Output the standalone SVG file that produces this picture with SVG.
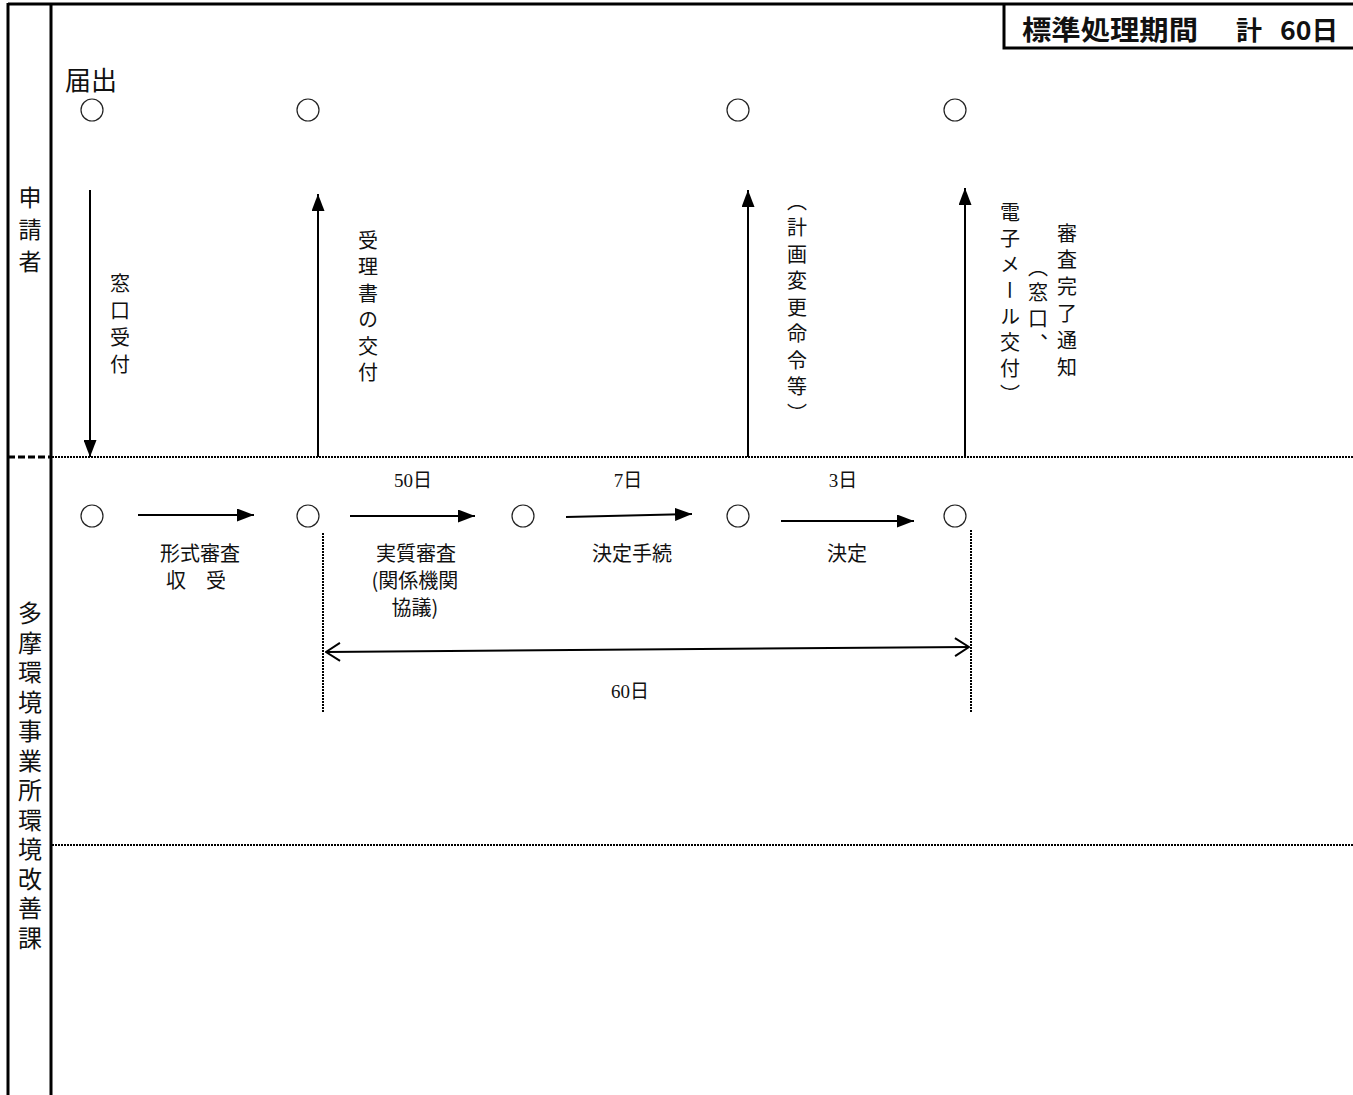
<svg xmlns="http://www.w3.org/2000/svg" width="1353" height="1095" viewBox="0 0 1353 1095">
<style>
.frame{stroke:#000;stroke-width:3;fill:none}
.dot{stroke:#000;stroke-width:2;stroke-dasharray:2 1;fill:none}
.node{fill:#fff;stroke:#222;stroke-width:1.2}
.arr{stroke:#000;stroke-width:2;fill:none}
.jp{font-family:"Noto Sans CJK JP","Noto Sans",sans-serif;fill:#111}
.vt{font-family:"Noto Sans CJK JP","Noto Sans",sans-serif;fill:#111;writing-mode:vertical-rl;font-size:20px}
.num{font-family:"Liberation Serif","Noto Sans CJK JP",serif;font-size:19px;fill:#111;text-anchor:middle}
.lbl{font-family:"Noto Sans CJK JP","Noto Sans",sans-serif;font-size:20px;fill:#111;text-anchor:middle}
</style>
<defs>
<marker id="ah" viewBox="0 0 17 13" refX="17" refY="6.5" markerWidth="17" markerHeight="13" markerUnits="userSpaceOnUse" orient="auto">
<path d="M0,0 L17,6.5 L0,13 Z" fill="#000"/>
</marker>
<marker id="open" viewBox="0 0 16 20" refX="15" refY="10" markerWidth="16" markerHeight="20" markerUnits="userSpaceOnUse" orient="auto-start-reverse">
<path d="M1,1 L15,10 L1,19" fill="none" stroke="#000" stroke-width="2"/>
</marker>
</defs>

<g id="frame">
<line class="frame" x1="8" y1="4" x2="1353" y2="4"/>
<line class="frame" x1="8" y1="3" x2="8" y2="1095"/>
<line class="frame" x1="51" y1="3" x2="51" y2="1095"/>
<line x1="8" y1="457" x2="51" y2="457" stroke="#000" stroke-width="3" stroke-dasharray="7 3"/>
<line class="dot" x1="52" y1="457" x2="1353" y2="457"/>
<line class="dot" x1="52" y1="845" x2="1353" y2="845"/>
</g>

<g id="period-box">
<polyline class="frame" points="1004,4 1004,48 1353,48"/>
<text class="jp" x="1022" y="40" font-size="27" font-weight="bold" textLength="176" lengthAdjust="spacingAndGlyphs">標準処理期間</text>
<text class="jp" x="1236" y="40" font-size="26" font-weight="bold">計</text>
<text class="jp" x="1280" y="40" font-size="26" font-weight="bold" textLength="58" lengthAdjust="spacingAndGlyphs">60日</text>
</g>

<g id="lane-applicant">
<text class="vt" x="30" y="186" style="font-size:23px;letter-spacing:9px">申請者</text>
</g>
<g id="lane-office">
<text class="vt" x="30" y="601" style="font-size:24px;letter-spacing:5.5px">多摩環境事業所環境改善課</text>
</g>

<g id="applicant-nodes">
<text class="jp" x="65" y="90" font-size="26">届出</text>
<circle class="node" cx="92" cy="110" r="11"/>
<circle class="node" cx="308" cy="110" r="11"/>
<circle class="node" cx="738" cy="110" r="11"/>
<circle class="node" cx="955" cy="110" r="11"/>
</g>

<g id="office-nodes">
<circle class="node" cx="92" cy="516" r="11"/>
<circle class="node" cx="308" cy="516" r="11"/>
<circle class="node" cx="523" cy="516" r="11"/>
<circle class="node" cx="738" cy="516" r="11"/>
<circle class="node" cx="955" cy="516" r="11"/>
</g>

<g id="connectors">
<line class="arr" x1="90" y1="190" x2="90" y2="457" marker-end="url(#ah)"/>
<line class="arr" x1="318" y1="457" x2="318" y2="194" marker-end="url(#ah)"/>
<line class="arr" x1="748" y1="457" x2="748" y2="190" marker-end="url(#ah)"/>
<line class="arr" x1="965" y1="457" x2="965" y2="188" marker-end="url(#ah)"/>
<line class="arr" x1="138" y1="515" x2="254" y2="515" marker-end="url(#ah)"/>
<line class="arr" x1="350" y1="516" x2="475" y2="516" marker-end="url(#ah)"/>
<line class="arr" x1="566" y1="517" x2="692" y2="514" marker-end="url(#ah)"/>
<line class="arr" x1="781" y1="521" x2="914" y2="521" marker-end="url(#ah)"/>
<line class="dot" x1="323" y1="533" x2="323" y2="712"/>
<line class="dot" x1="971" y1="530" x2="971" y2="712"/>
<line class="arr" x1="326" y1="652" x2="969" y2="647" marker-start="url(#open)" marker-end="url(#open)"/>
</g>

<g id="connector-labels">
<text class="vt" x="120" y="273" style="letter-spacing:7px">窓口受付</text>
<text class="vt" x="368" y="230" style="letter-spacing:6.5px">受理書の交付</text>
<text class="vt" x="797" y="191" style="letter-spacing:6.5px">（計画変更命令等）</text>
<text class="vt" x="1067" y="223" style="letter-spacing:6.8px">審査完了通知</text>
<text class="vt" x="1038" y="257" style="letter-spacing:5.5px">（窓口、</text>
<text class="vt" x="1010" y="202" style="letter-spacing:6px">電子メール交付）</text>
<text class="num" x="413" y="487">50日</text>
<text class="num" x="628" y="487">7日</text>
<text class="num" x="843" y="487">3日</text>
<text class="lbl" x="200" y="561">形式審査</text>
<text class="lbl" x="196" y="588">収　受</text>
<text class="lbl" x="416" y="561">実質審査</text>
<text class="lbl" x="415" y="588">(関係機関</text>
<text class="lbl" x="415" y="615">協議)</text>
<text class="lbl" x="632" y="561">決定手続</text>
<text class="lbl" x="847" y="561">決定</text>
<text class="num" x="630" y="698">60日</text>
</g>
</svg>
